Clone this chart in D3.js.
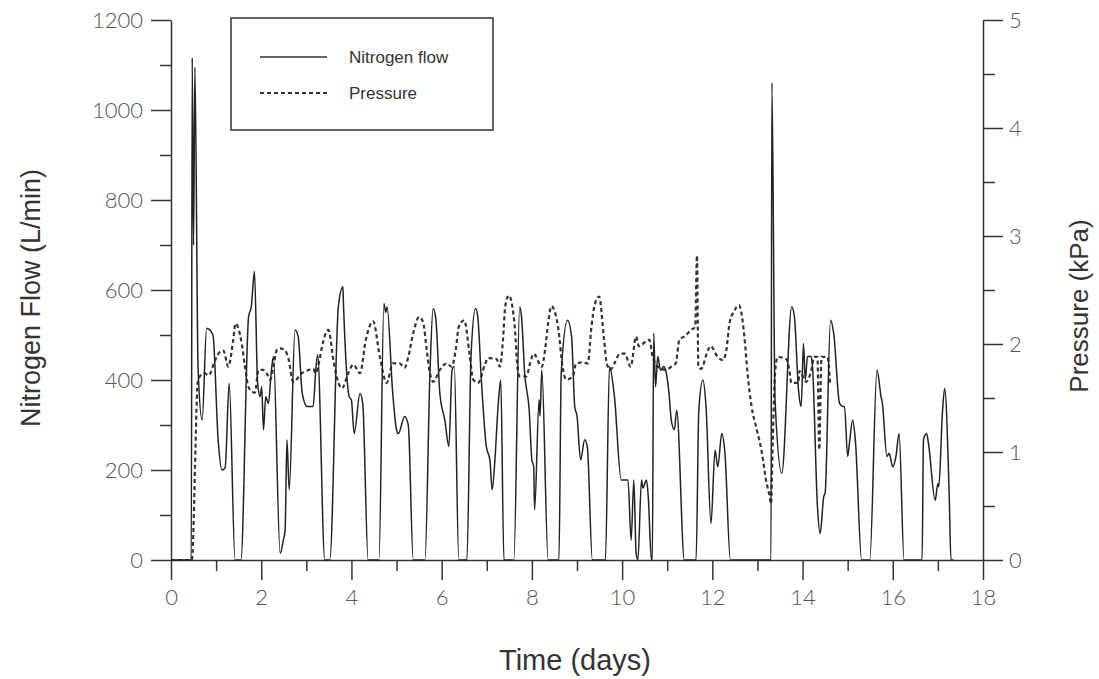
<!DOCTYPE html>
<html lang="en">
<head>
	<meta charset="UTF-8">
	<title>Nitrogen flow and pressure</title>
	<style>
		html, body {
			margin: 0;
			background: #fff;
		}
		.tick text {
			font-family: Lato, 'DejaVu Sans', sans-serif;
			font-weight: 300;
			font-size: 22px;
			fill: #555;
		}
		.axis path, .axis line {
			stroke: #333;
			stroke-width: 1.5px;
		}
		.title {
			font-family: 'Liberation Sans', Arial, sans-serif;
			fill: #333;
		}
		.legend text {
			font-family: 'Liberation Sans', Arial, sans-serif;
			font-size: 17px;
			fill: #333;
		}
	</style>
	<script src="https://d3js.org/d3.v7.min.js"></script>
</head>
<body>
	<svg id="chart" width="1099" height="679"></svg>
	<script>
		// nitrogen flow (L/min) against time (days)
		const flowDays = [0, 0.45, 0.47, 0.50, 0.53, 0.60, 0.69, 0.79, 0.93, 1.045, 1.13, 1.20, 1.29, 1.42, 1.55, 1.72, 1.78, 1.85, 1.92, 1.975,
			2.01, 2.05, 2.10, 2.16, 2.22, 2.27, 2.42, 2.49, 2.53, 2.57, 2.62, 2.75, 2.82, 2.91, 3.02, 3.15, 3.21, 3.25, 3.41, 3.52,
			3.71, 3.81, 3.82, 3.95, 4.00, 4.06, 4.19, 4.25, 4.37, 4.61, 4.72, 4.76, 4.79, 4.91, 5.00, 5.04, 5.18, 5.26, 5.37, 5.63,
			5.74, 5.81, 5.87, 5.96, 6.07, 6.16, 6.23, 6.28, 6.38, 6.56, 6.65, 6.75, 6.80, 6.88, 6.99, 7.07, 7.12, 7.18, 7.25, 7.31,
			7.38, 7.60, 7.73, 7.77, 7.84, 7.94, 8.00, 8.04, 8.06, 8.16, 8.18, 8.22, 8.36, 8.60, 8.65, 8.79, 8.88, 8.95, 9.00, 9.08,
			9.17, 9.23, 9.34, 9.63, 9.72, 9.83, 9.98, 10.13, 10.20, 10.26, 10.31, 10.35, 10.43, 10.46, 10.54, 10.58, 10.65, 10.67, 10.70, 10.74,
			10.79, 10.85, 10.92, 10.98, 11.04, 11.09, 11.16, 11.21, 11.38, 11.64, 11.70, 11.79, 11.86, 11.97, 12.06, 12.12, 12.21, 12.28, 12.40, 13.30,
			13.32, 13.39, 13.54, 13.76, 13.82, 13.91, 13.97, 14.02, 14.06, 14.11, 14.19, 14.22, 14.33, 14.39, 14.47, 14.50, 14.62, 14.69, 14.82, 14.89,
			14.93, 15.00, 15.04, 15.11, 15.17, 15.31, 15.49, 15.65, 15.74, 15.77, 15.87, 15.92, 16.00, 16.07, 16.14, 16.25, 16.65, 16.68, 16.75, 16.79,
			16.94, 17.00, 17.02, 17.10, 17.15, 17.25, 17.29, 17.35];
		const flowValues = [0, 0, 1116, 700, 1095, 427, 311, 515, 500, 267, 200, 205, 393, 0, 0, 541, 563, 641, 393, 363,
			385, 289, 363, 348, 415, 452, 15, 44, 67, 267, 156, 511, 496, 370, 341, 341, 422, 456, 0, 0,
			563, 607, 578, 363, 355, 281, 370, 348, 0, 0, 570, 550, 563, 378, 289, 281, 319, 300, 0, 0,
			415, 559, 537, 370, 311, 252, 422, 430, 0, 0, 452, 559, 541, 400, 252, 222, 156, 222, 341, 400,
			0, 0, 563, 541, 415, 333, 222, 207, 111, 356, 320, 422, 0, 0, 415, 533, 496, 341, 320, 222,
			267, 250, 0, 0, 430, 363, 178, 178, 44, 178, 15, 0, 178, 160, 178, 140, 0, 0, 504, 385,
			452, 422, 430, 415, 370, 311, 290, 333, 0, 0, 333, 400, 341, 81, 244, 207, 281, 237, 0, 0,
			1060, 356, 193, 563, 540, 378, 341, 481, 400, 452, 452, 430, 119, 59, 141, 148, 533, 504, 348, 341,
			341, 230, 260, 311, 267, 0, 0, 422, 363, 348, 230, 237, 207, 230, 281, 0, 0, 267, 281, 260,
			133, 170, 163, 326, 381, 148, 0, 0];

		// pressure (kPa) against time (days)
		const pressureDays = [0, 0.46, 0.60, 0.74, 0.83, 0.98, 1.09, 1.16, 1.27, 1.38, 1.43, 1.49, 1.57, 1.64, 1.72, 1.80, 1.86, 1.94, 2.05, 2.12,
			2.20, 2.27, 2.34, 2.42, 2.53, 2.60, 2.71, 2.90, 3.05, 3.15, 3.21, 3.29, 3.35, 3.49, 3.60, 3.69, 3.79, 3.93, 4.04, 4.19,
			4.32, 4.48, 4.63, 4.78, 4.92, 5.07, 5.18, 5.26, 5.37, 5.50, 5.59, 5.67, 5.74, 5.81, 5.96, 6.11, 6.22, 6.31, 6.38, 6.50,
			6.62, 6.70, 6.81, 6.96, 7.03, 7.22, 7.29, 7.36, 7.41, 7.49, 7.62, 7.68, 7.73, 7.88, 7.96, 8.04, 8.22, 8.29, 8.36, 8.43,
			8.58, 8.68, 8.76, 8.91, 8.98, 9.13, 9.24, 9.32, 9.39, 9.49, 9.60, 9.66, 9.74, 9.83, 9.95, 10.06, 10.19, 10.31, 10.37, 10.60,
			10.68, 10.79, 10.98, 11.09, 11.19, 11.27, 11.38, 11.53, 11.62, 11.66, 11.69, 11.75, 11.90, 11.96, 12.12, 12.23, 12.31, 12.38, 12.49, 12.59,
			12.71, 12.78, 12.87, 12.99, 13.10, 13.19, 13.27, 13.30, 13.34, 13.39, 13.45, 13.64, 13.71, 13.75, 13.91, 13.93, 14.08, 14.19, 14.26, 14.33,
			14.37, 14.42, 14.55, 14.61];
		const pressureValues = [0, 0, 1.67, 1.73, 1.71, 1.85, 1.93, 1.94, 1.79, 2.04, 2.19, 2.15, 2.00, 1.79, 1.60, 1.56, 1.55, 1.76, 1.76, 1.73,
			1.67, 1.79, 1.94, 1.96, 1.94, 1.87, 1.65, 1.73, 1.76, 1.77, 1.73, 1.85, 1.98, 2.13, 1.85, 1.67, 1.59, 1.73, 1.81, 1.73,
			2.04, 2.21, 1.88, 1.64, 1.82, 1.82, 1.78, 1.88, 2.10, 2.25, 2.20, 1.94, 1.73, 1.65, 1.76, 1.82, 1.79, 1.94, 2.16, 2.22,
			1.90, 1.67, 1.64, 1.81, 1.87, 1.86, 1.79, 2.04, 2.35, 2.45, 2.16, 1.79, 1.70, 1.70, 1.82, 1.91, 1.79, 1.94, 2.19, 2.35,
			2.16, 1.79, 1.67, 1.70, 1.82, 1.83, 1.82, 2.16, 2.36, 2.44, 2.04, 1.82, 1.76, 1.82, 1.91, 1.91, 1.79, 2.07, 1.98, 2.04,
			1.88, 1.79, 1.76, 1.79, 1.82, 2.04, 2.07, 2.13, 2.16, 2.82, 1.79, 1.77, 1.94, 1.98, 1.88, 1.85, 1.94, 2.19, 2.31, 2.36,
			2.07, 1.73, 1.42, 1.20, 0.99, 0.74, 0.59, 0.52, 1.11, 1.73, 1.88, 1.86, 1.75, 1.64, 1.64, 1.75, 1.65, 1.75, 1.88, 1.88,
			1.02, 1.88, 1.88, 1.64];

		const xTicks = [0, 2, 4, 6, 8, 10, 12, 14, 16, 18];
		const flowTicks = [0, 200, 400, 600, 800, 1000, 1200];
		const pressureTicks = [0, 1, 2, 3, 4, 5];
		const legendLabels = ['Nitrogen flow', 'Pressure'];

		const margin = { top: 20, right: 116, bottom: 119, left: 171 };
		const width = 1099, height = 679;

		const svg = d3.select('#chart');

		const x = d3.scaleLinear().domain([0, 18]).range([margin.left, width - margin.right]);
		const yFlow = d3.scaleLinear().domain([0, 1200]).range([height - margin.bottom, margin.top]);
		const yPres = d3.scaleLinear().domain([0, 5]).range([height - margin.bottom, margin.top]);

		// minor ticks first, then the major axis with labels
		svg.append('g').attr('class', 'axis')
			.attr('transform', `translate(0,${height - margin.bottom})`)
			.call(d3.axisBottom(x).tickValues(d3.range(1, 18, 2)).tickSize(11).tickFormat(''))
			.call(g => g.select('.domain').remove());
		svg.append('g').attr('class', 'axis')
			.attr('transform', `translate(0,${height - margin.bottom})`)
			.call(d3.axisBottom(x).tickValues(xTicks).tickSize(20).tickSizeOuter(0).tickPadding(9).tickFormat(d3.format('d')));

		svg.append('g').attr('class', 'axis')
			.attr('transform', `translate(${margin.left},0)`)
			.call(d3.axisLeft(yFlow).tickValues(d3.range(100, 1200, 200)).tickSize(11).tickFormat(''))
			.call(g => g.select('.domain').remove());
		svg.append('g').attr('class', 'axis')
			.attr('transform', `translate(${margin.left},0)`)
			.call(d3.axisLeft(yFlow).tickValues(flowTicks).tickSize(20).tickSizeOuter(0).tickPadding(8).tickFormat(d3.format('d')));

		svg.append('g').attr('class', 'axis')
			.attr('transform', `translate(${width - margin.right},0)`)
			.call(d3.axisRight(yPres).tickValues(d3.range(0.5, 5, 1)).tickSize(12).tickFormat(''))
			.call(g => g.select('.domain').remove());
		svg.append('g').attr('class', 'axis')
			.attr('transform', `translate(${width - margin.right},0)`)
			.call(d3.axisRight(yPres).tickValues(pressureTicks).tickSize(20).tickSizeOuter(0).tickPadding(6).tickFormat(d3.format('d')));

		// axis titles
		svg.append('text').attr('class', 'title')
			.attr('x', 575).attr('y', 670)
			.attr('text-anchor', 'middle').style('font-size', '29px').text('Time (days)');
		svg.append('text').attr('class', 'title')
			.attr('transform', `translate(40,${yFlow(600) + 8}) rotate(-90)`)
			.attr('text-anchor', 'middle').style('font-size', '27px').text('Nitrogen Flow (L/min)');
		svg.append('text').attr('class', 'title')
			.attr('transform', `translate(1088,${yPres(2.5) + 16}) rotate(-90)`)
			.attr('text-anchor', 'middle').style('font-size', '26px').text('Pressure (kPa)');

		// data lines
		const flowLine = d3.line().x(d => x(d[0])).y(d => yFlow(d[1])).curve(d3.curveMonotoneX);
		const presLine = d3.line().x(d => x(d[0])).y(d => yPres(d[1])).curve(d3.curveMonotoneX);

		svg.append('path')
			.datum(pressureDays.map((d, i) => [d, pressureValues[i]]))
			.attr('d', presLine)
			.attr('fill', 'none')
			.attr('stroke', '#333')
			.attr('stroke-width', 2.2)
			.attr('stroke-dasharray', '4,3');

		svg.append('path')
			.datum(flowDays.map((d, i) => [d, flowValues[i]]))
			.attr('d', flowLine)
			.attr('fill', 'none')
			.attr('stroke', '#222')
			.attr('stroke-width', 1.5)
			.attr('stroke-linejoin', 'round');

		// legend
		const legend = svg.append('g').attr('class', 'legend');
		legend.append('rect')
			.attr('x', 231).attr('y', 18).attr('width', 262).attr('height', 112)
			.attr('fill', '#fff').attr('stroke', '#333').attr('stroke-width', 1.5);
		legendLabels.forEach((label, i) => {
			const ly = 57 + i * 36;
			legend.append('line')
				.attr('x1', 260).attr('x2', 327).attr('y1', ly).attr('y2', ly)
				.attr('stroke', '#333').attr('stroke-width', i ? 2 : 1.5)
				.attr('stroke-dasharray', i ? '4,3' : null);
			legend.append('text')
				.attr('x', 349).attr('y', ly + 6).text(label);
		});
	</script>
</body>
</html>
